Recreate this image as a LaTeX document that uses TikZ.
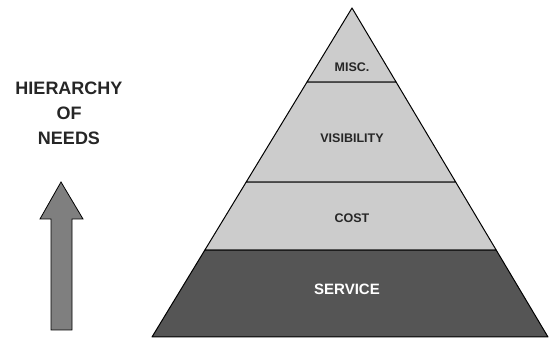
\documentclass[tikz,border=0pt]{standalone}
\usepackage{fontspec}
\setmainfont{Liberation Sans}
\usetikzlibrary{calc}
\definecolor{lightband}{HTML}{CCCCCC}
\definecolor{darkband}{HTML}{555555}
\definecolor{arrowgray}{HTML}{7F7F7F}
\tikzset{
  band/.style={draw=black, line width=1pt, line join=round},
  bandlabel/.style={font=\bfseries\fontsize{12.5}{14}\selectfont, text=black!85},
  titletext/.style={font=\bfseries\fontsize{18}{25}\selectfont, align=center, text=black!85}
}
\begin{document}
\begin{tikzpicture}[x=1pt,y=-1pt]
\useasboundingbox (0,0) rectangle (550,339);
\fill[white] (0,0) rectangle (550,339);
\coordinate (A) at (352,8);
\coordinate (L) at (152,337);
\coordinate (R) at (548,337);
\coordinate (L1) at ($(A)!0.225!(L)$);
\coordinate (R1) at ($(A)!0.225!(R)$);
\coordinate (L2) at ($(A)!0.529!(L)$);
\coordinate (R2) at ($(A)!0.529!(R)$);
\coordinate (L3) at ($(A)!0.7356!(L)$);
\coordinate (R3) at ($(A)!0.7356!(R)$);
\filldraw[band, fill=lightband] (A) -- (R1) -- (L1) -- cycle;
\filldraw[band, fill=lightband] (L1) -- (R1) -- (R2) -- (L2) -- cycle;
\filldraw[band, fill=lightband] (L2) -- (R2) -- (R3) -- (L3) -- cycle;
\filldraw[band, fill=darkband] (L3) -- (R3) -- (R) -- (L) -- cycle;
\node[bandlabel] (misc) at (352,67) {MISC.};
\node[bandlabel] (vis) at (352,138) {VISIBILITY};
\node[bandlabel] (cost) at (352,218) {COST};
\node[bandlabel, text=white, font=\bfseries\fontsize{15}{16}\selectfont] (serv) at (347,289) {SERVICE};
\node[titletext] (title) at (69,113) {HIERARCHY\\OF\\NEEDS};
\filldraw[draw=black, line width=0.8pt, fill=arrowgray, line join=miter]
  (61,182) -- (83,219) -- (72,219) -- (72,330) -- (51,330) -- (51,219) -- (40,219) -- cycle;
\end{tikzpicture}
\end{document}
